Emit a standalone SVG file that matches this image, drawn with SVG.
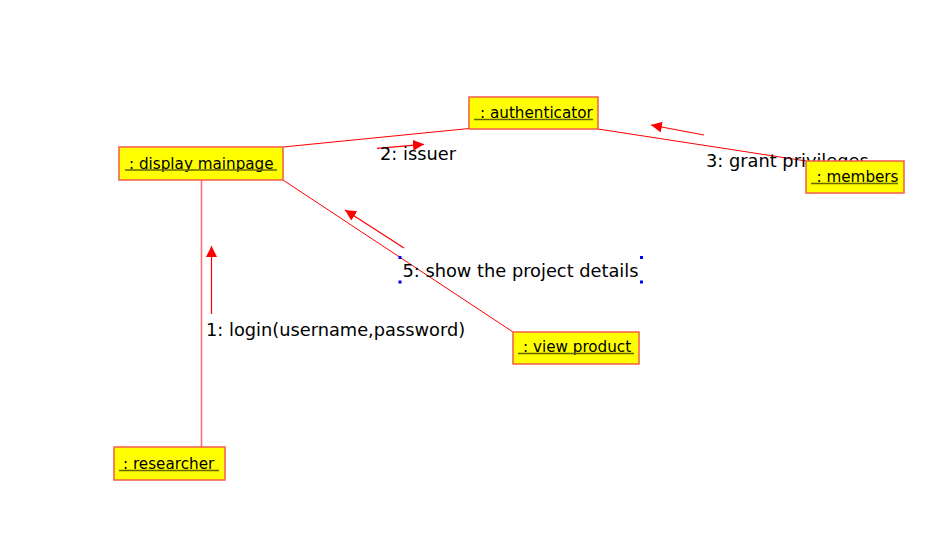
<svg xmlns="http://www.w3.org/2000/svg" width="949" height="547" viewBox="0 0 949 547">
<style>
.box{fill:#ffff00;stroke:#f25c4a;stroke-width:1.5}
.lbl{font-family:"DejaVu Sans",sans-serif;font-size:15.2px;fill:#000}
.ul{stroke:#666600;stroke-width:1.3}
.msg{font-family:"DejaVu Sans",sans-serif;font-size:17.8px;fill:#000}
.link{stroke:#ff0000;stroke-width:1;fill:none}
.arr{stroke:#ff0000;stroke-width:1.2;fill:none;marker-end:url(#ah)}
</style>
<defs>
<marker id="ah" viewBox="0 0 10 10" refX="10" refY="5" markerWidth="11" markerHeight="11" markerUnits="userSpaceOnUse" orient="auto">
<path d="M0,0 L10,5 L0,10 Z" fill="#ff0000"/>
</marker>
</defs>
<rect width="949" height="547" fill="#fff"/>
<g id="connectors">
<line class="link" x1="283" y1="147" x2="469" y2="128.5"/>
<line class="link" x1="598" y1="129" x2="806" y2="161"/>
<line class="link" x1="283" y1="180" x2="513" y2="332"/>
<line x1="201.5" y1="180" x2="201.5" y2="447" stroke="#ff7070" stroke-width="1.6"/>
<line class="arr" x1="211.5" y1="314" x2="211.5" y2="246"/>
<line class="arr" x1="377" y1="148.3" x2="424" y2="144.3"/>
<line class="arr" x1="704" y1="135" x2="651" y2="125"/>
<line class="arr" x1="404" y1="248" x2="345" y2="210"/>
</g>
<g id="messages">
<text class="msg" x="206" y="336">1: login(username,password)</text>
<text class="msg" x="380" y="160">2: issuer</text>
<text class="msg" x="706" y="167">3: grant privileges</text>
<text class="msg" x="402.5" y="277">5: show the project details</text>
<g fill="#0000ff">
<rect x="398.5" y="256" width="3" height="3"/>
<rect x="640" y="256" width="3" height="3"/>
<rect x="398.5" y="280.5" width="3" height="3"/>
<rect x="640" y="280.5" width="3" height="3"/>
</g>
</g>
<g id="authenticator">
<rect class="box" x="469" y="97" width="129" height="32"/>
<text class="lbl" x="480" y="118">: authenticator</text>
<line class="ul" x1="474" y1="119.5" x2="593" y2="119.5"/>
</g>
<g id="display_mainpage">
<rect class="box" x="119" y="147" width="164" height="33"/>
<text class="lbl" x="129" y="168.5">: display mainpage</text>
<line class="ul" x1="125" y1="170" x2="277" y2="170"/>
</g>
<g id="members">
<rect class="box" x="806" y="161" width="98" height="32"/>
<text class="lbl" x="816.5" y="182">: members</text>
<line class="ul" x1="811" y1="183.5" x2="898" y2="183.5"/>
</g>
<g id="view_product">
<rect class="box" x="513" y="332" width="126" height="32"/>
<text class="lbl" x="523" y="352">: view product</text>
<line class="ul" x1="518" y1="353.5" x2="634" y2="353.5"/>
</g>
<g id="researcher">
<rect class="box" x="114" y="447" width="111" height="33"/>
<text class="lbl" x="123" y="469">: researcher</text>
<line class="ul" x1="119" y1="470.5" x2="219" y2="470.5"/>
</g>
</svg>
